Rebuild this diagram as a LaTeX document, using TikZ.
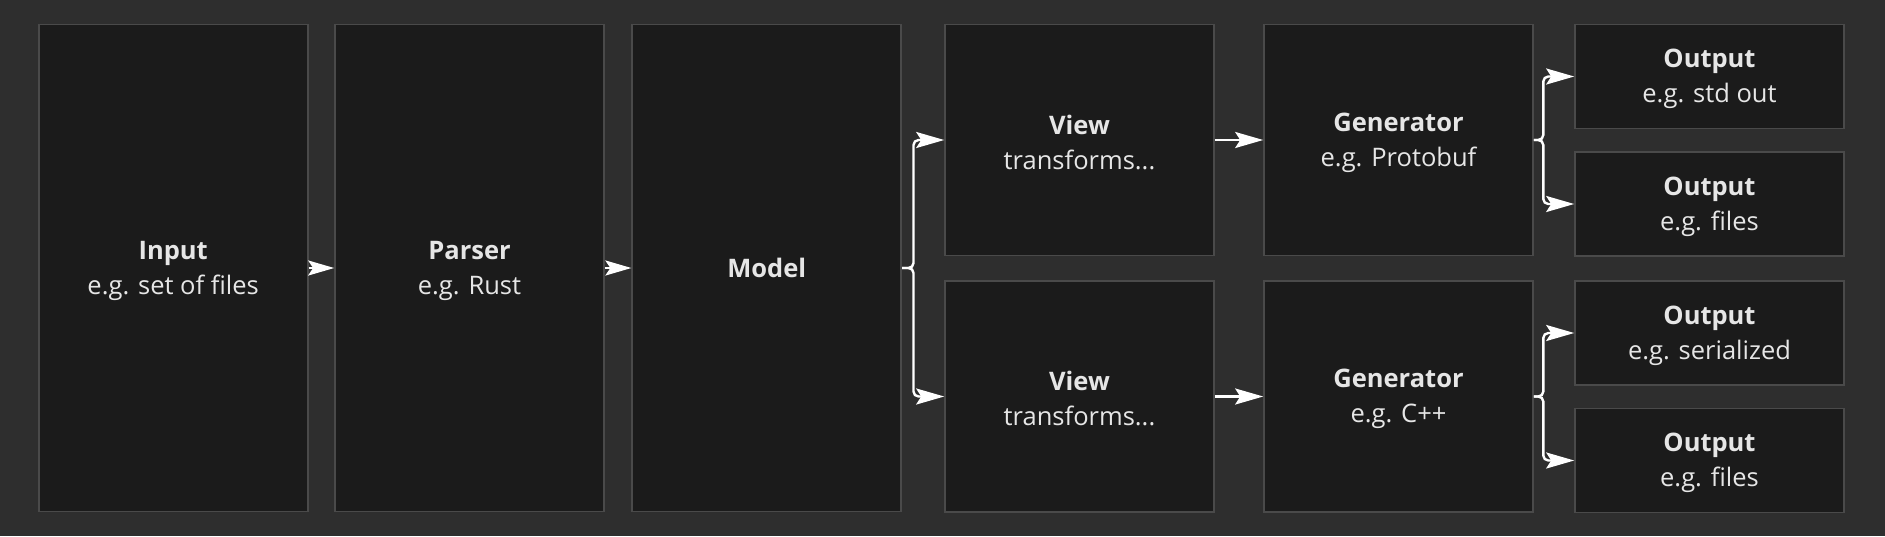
\documentclass[tikz,border=0pt]{standalone}
\usepackage{fontspec}
\setmainfont{Open Sans}
\usetikzlibrary{arrows.meta}
\definecolor{bgc}{HTML}{2E2E2E}
\definecolor{boxfill}{HTML}{1B1B1B}
\definecolor{boxline}{HTML}{4A4A4A}
\definecolor{txt}{HTML}{E6E6E6}
\newcommand{\headline}[1]{\rule{0pt}{23.5pt}\textbf{#1}}
\tikzset{
  stagebox/.style={draw=boxline, fill=boxfill, line width=1.6pt, minimum width=269pt,
    text=txt, align=center, font=\fontsize{25.5}{35}\selectfont, inner sep=0pt},
  tallbox/.style={stagebox, minimum height=487pt},
  midbox/.style={stagebox, minimum height=231pt},
  smallbox/.style={stagebox, minimum height=104pt},
  conn/.style={draw=white, line width=2.4pt, -{Stealth[length=28pt,width=16pt,inset=5pt]}},
  shortconn/.style={draw=white, line width=2.4pt, -{Stealth[length=26pt,width=15pt,inset=5pt]}},
  brace/.style={conn, rounded corners=5pt}
}
\begin{document}
\begin{tikzpicture}[x=1pt,y=-1pt]
\fill[bgc] (0,0) rectangle (1885,536);
\useasboundingbox (0,0) rectangle (1885,536);

\node[tallbox] (input) at (173.2,268) {\headline{Input}\\e.g. set of files};
\node[tallbox] (parser) at (469.5,268) {\headline{Parser}\\e.g. Rust};
\node[tallbox] (model) at (766.7,268) {\textbf{Model}};

\node[midbox] (view1) at (1079.5,140) {\headline{View}\\transforms...};
\node[midbox] (view2) at (1079.5,396.5) {\headline{View}\\transforms...};

\node[midbox] (gen1) at (1398.5,140) {\headline{Generator}\\e.g. Protobuf};
\node[midbox] (gen2) at (1398.5,396.5) {\headline{Generator}\\e.g. C++};

\node[smallbox] (out1) at (1709.5,76.5) {\headline{Output}\\e.g. std out};
\node[smallbox] (out2) at (1709.5,204) {\headline{Output}\\e.g. files};
\node[smallbox] (out3) at (1709.5,333) {\headline{Output}\\e.g. serialized};
\node[smallbox] (out4) at (1709.5,460.5) {\headline{Output}\\e.g. files};

\draw[shortconn] (input.east) -- (parser.west);
\draw[shortconn] (parser.east) -- (model.west);

\draw[brace] (model.east) -- ++(11.5,0) |- (view1.west);
\draw[brace] (model.east) -- ++(11.5,0) |- (view2.west);

\draw[conn] (view1.east) -- (gen1.west);
\draw[conn] (view2.east) -- (gen2.west);

\draw[brace] (gen1.east) -- ++(9.5,0) |- (out1.west);
\draw[brace] (gen1.east) -- ++(9.5,0) |- (out2.west);
\draw[brace] (gen2.east) -- ++(9.5,0) |- (out3.west);
\draw[brace] (gen2.east) -- ++(9.5,0) |- (out4.west);
\end{tikzpicture}
\end{document}
